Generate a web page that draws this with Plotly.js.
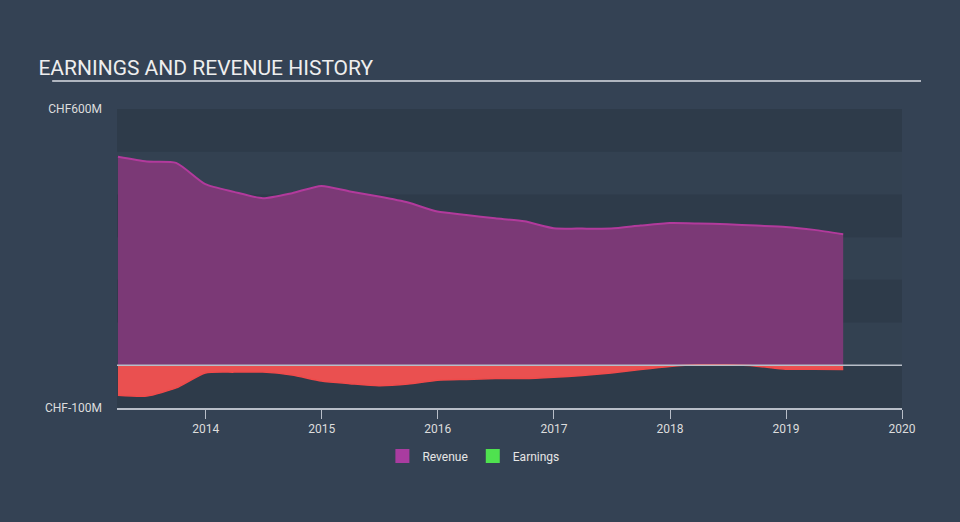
<!DOCTYPE html>
<html>
<head>
<meta charset="utf-8">
<script src="https://cdn.plot.ly/plotly-3.0.1.min.js"></script>
<style>
html,body{margin:0;padding:0;background:#344254;}
#chart{width:960px;height:522px;}
</style>
</head>
<body>
<div id="chart"></div>
<script>
var dates = ["2013-03-31","2013-06-30","2013-09-30","2013-12-31","2014-03-31","2014-06-30","2014-09-30","2014-12-31","2015-03-31","2015-06-30","2015-09-30","2015-12-31","2016-03-31","2016-06-30","2016-09-30","2016-12-31","2017-03-31","2017-06-30","2017-09-30","2017-12-31","2018-03-31","2018-06-30","2018-09-30","2018-12-31","2019-03-31","2019-06-30"];
var revenue = [488,477,474,424,406,391,403,420,407,395,381,360,352,344,337,321,320,320,327,333,332,330,327,324,317,307];
var earnings = [-70,-72,-53,-18,-16,-16,-23,-37,-43,-48,-44,-35,-33,-31,-31,-28,-24,-18,-10,-3,1,1,-2,-9,-9,-10];
var yTickVals = [-100, 600];
var yTickText = ["CHF-100M", "CHF600M"];
var xTickVals = ["2014-01-01","2015-01-01","2016-01-01","2017-01-01","2018-01-01","2019-01-01","2020-01-01"];
var xTickText = ["2014","2015","2016","2017","2018","2019","2020"];
var legendNames = ["Revenue", "Earnings"];
var legendColors = ["#a93ca0", "#4fe24f"];

var shapes = [];
[[500,600],[300,400],[100,200],[-100,0]].forEach(function(b){
  shapes.push({type:'rect', xref:'paper', yref:'y', x0:0, x1:1, y0:b[0], y1:b[1],
    fillcolor:'#2e3b4a', line:{width:0}, layer:'below'});
});
shapes.push({type:'line', xref:'paper', yref:'y', x0:0, x1:1, y0:0, y1:0,
  line:{color:'#b8bec8', width:1.5}, layer:'above'});
shapes.push({type:'line', xref:'paper', yref:'paper', x0:-0.0826, x1:1.0242, y0:1.0935, y1:1.0935,
  line:{color:'#b0b6c0', width:2}, layer:'above'});

var traces = [
  {x: dates, y: revenue, name:'Revenue', type:'scatter', mode:'lines', fill:'tozeroy', showlegend:false,
   line:{color:'#b23a9c', width:2, shape:'spline', smoothing:0.6}, fillcolor:'rgba(123,57,118,1)'},
  {x: dates, y: earnings, name:'Earnings', type:'scatter', mode:'lines', fill:'tozeroy', showlegend:false,
   line:{color:'#f04a4a', width:1.5, shape:'spline', smoothing:0.6}, fillcolor:'#ea5050'}
];
legendNames.forEach(function(n, i){
  traces.push({x:[null], y:[null], name:n, type:'scatter', mode:'markers', showlegend:true,
    marker:{symbol:'square', size:14, color:legendColors[i]}});
});

var layout = {
  width:960, height:522,
  paper_bgcolor:'#344254', plot_bgcolor:'#334151',
  margin:{l:117, r:58, t:109, b:114},
  showlegend:true,
  legend:{orientation:'h', x:0.454, xanchor:'center', y:-0.112, yanchor:'top',
    font:{family:'Roboto', size:12, color:'#e6e6e6'}, itemwidth:30, traceorder:'normal'},
  title:{text:'EARNINGS AND REVENUE HISTORY', x:0.04, xanchor:'left', y:0.87, yanchor:'middle',
    font:{family:'Roboto', size:21, color:'#eeeeee'}},
  xaxis:{type:'date', range:['2013-03-28','2020-01-01'], tickvals:xTickVals, ticktext:xTickText,
    showgrid:false, zeroline:false, showline:true, linecolor:'#b8bec8', linewidth:1.5,
    ticks:'outside', ticklen:9, tickcolor:'#b8bec8', tickwidth:1,
    tickfont:{family:'Roboto', size:12, color:'#dddddd'}},
  yaxis:{range:[-100,600], tickvals:yTickVals, ticktext:yTickText, showgrid:false, zeroline:false,
    showline:false, ticks:'', ticklabelstandoff:14,
    tickfont:{family:'Roboto', size:12, color:'#dddddd'}},
  shapes: shapes
};

Plotly.newPlot('chart', traces, layout, {displayModeBar:false, staticPlot:true});
</script>
</body>
</html>
